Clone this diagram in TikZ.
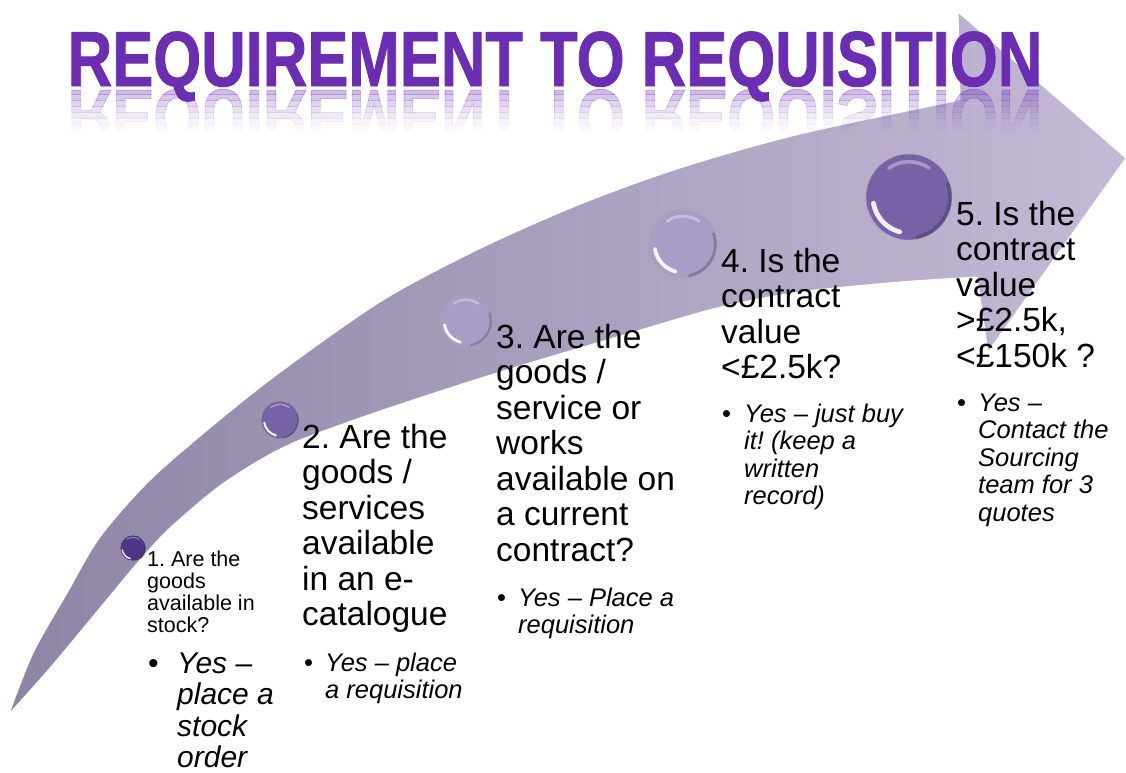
\documentclass[tikz,border=0pt]{standalone}
\usepackage{fontspec}
\setmainfont{Liberation Sans}
\newfontfamily\titlefont[BoldFeatures={FakeBold=1.2}]{Liberation Sans}
\usetikzlibrary{calc}
\frenchspacing

\definecolor{titlepurple}{HTML}{6A2DB4}
\definecolor{arrowdark}{HTML}{8E84A6}
\definecolor{arrowlight}{HTML}{C4BAD7}
\definecolor{orbdeep}{HTML}{4F3587}
\definecolor{orbmid}{HTML}{7862A6}
\definecolor{orbpale}{HTML}{A79DC6}

\newcommand{\qlines}[1]{\parbox[t]{260pt}{#1}}
\newcommand{\yesitem}[2]{\makebox[#1][l]{\upshape •}\parbox[t]{220pt}{#2}}

\tikzset{
  titletext/.style={anchor=base, inner sep=0pt, text=titlepurple,
    font=\titlefont\fontsize{78}{78}\selectfont\bfseries},
  question/.style={anchor=base west, inner sep=0pt,
    font=\fontsize{33.5}{35.5}\selectfont},
  answer/.style={anchor=base west, inner sep=0pt,
    font=\fontsize{25.5}{27.5}\selectfont\itshape},
  orb/.style={circle, inner sep=0pt, draw=black!35, line width=0.4pt},
}

\begin{document}
\begin{tikzpicture}[x=1pt,y=-1pt]
        \useasboundingbox (0,0) rectangle (1126,772);

        % Arrow
        \shadedraw[left color=arrowdark, right color=arrowlight, draw=white, line width=1pt]
            plot[smooth] coordinates {(9,714) (33,653) (67,593) (100,537) (150,480) (217,422)
                (283,370) (383,300) (483,247) (583,203) (683,167) (800,134) (960,100)}
            -- (958,12) -- (1126,158) -- (988,352) -- (977,277)
            -- plot[smooth] coordinates {(977,277) (900,282) (800,292) (717,308) (617,337)
                (500,372) (383,410) (300,440) (260,460) (217,488) (170,528) (140,560)
                (100,608) (50,668) (9,714)}
            -- cycle;

        % Spheres
        \foreach \n/\x/\y/\r/\c in {
            1/133/548/13/orbdeep,
            2/280/420/19/orbmid,
            3/466/321/26/orbpale,
            4/683/244/34/orbpale,
            5/909/197/43/orbmid} {
            \node[orb, minimum size=\r*2pt, fill=\c] (o\n) at (\x,\y) {};
            \draw[white, opacity=0.35, line width=\r/12, line cap=round]
                ($(o\n.center)+(235:0.82*\r)$) arc[start angle=235, end angle=305, radius=0.82*\r];
            \draw[white, opacity=0.9, line width=\r/9, line cap=round]
                ($(o\n.center)+(105:0.84*\r)$) arc[start angle=105, end angle=170, radius=0.84*\r];
            \draw[black, opacity=0.2, line width=\r/12]
                ($(o\n.center)+(-20:0.95*\r)$) arc[start angle=-20, end angle=80, radius=0.95*\r];
        }

        % Title and its reflection
        \node[titletext] (title) at (555,86) {\scalebox{0.79}[1]{REQUIREMENT TO REQUISITION}};
        \foreach \i/\op in {0/0.32,1/0.26,2/0.2,3/0.15,4/0.1,5/0.06,6/0.03} {
            \begin{scope}
                \clip (0,88+6*\i) rectangle (1126,94+6*\i);
                \node[titletext, opacity=\op, yscale=-1] (mirror\i) at (555,90)
                    {\scalebox{0.79}[1]{REQUIREMENT TO REQUISITION}};
            \end{scope}
        }

        % Step 1
        \node[question, font=\fontsize{21.5}{22}\selectfont] (q1) at (147,566)
            {\qlines{1. Are the\\goods\\available in\\stock?}};
        \node[answer, font=\fontsize{30}{31.5}\selectfont\itshape] (y1) at (148,673)
            {\yesitem{29pt}{Yes –\\place a\\stock\\order}};

        % Step 2
        \node[question] (q2) at (302,448)
            {\qlines{2. Are the\\goods /\\services\\available\\in an e-\\catalogue}};
        \node[answer] (y2) at (304,671) {\yesitem{21pt}{Yes – place\\a requisition}};

        % Step 3
        \node[question] (q3) at (496,348)
            {\qlines{3. Are the\\goods /\\service or\\works\\available on\\a current\\contract?}};
        \node[answer] (y3) at (497,606) {\yesitem{21pt}{Yes – Place a\\requisition}};

        % Step 4
        \node[question] (q4) at (721,272) {\qlines{4. Is the\\contract\\value\\<£2.5k?}};
        \node[answer] (y4) at (722,422)
            {\yesitem{22pt}{Yes – just buy\\it! (keep a\\written\\record)}};

        % Step 5
        \node[question] (q5) at (956,225)
            {\qlines{5. Is the\\contract\\value\\>£2.5k,\\<£150k ?}};
        \node[answer] (y5) at (957,411)
            {\yesitem{21pt}{Yes –\\Contact the\\Sourcing\\team for 3\\quotes}};
\end{tikzpicture}
\end{document}
